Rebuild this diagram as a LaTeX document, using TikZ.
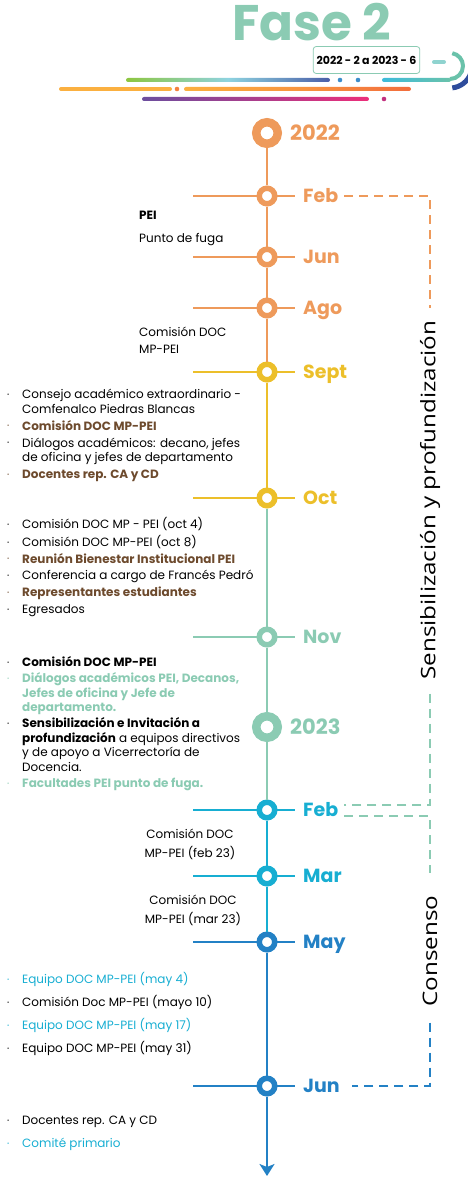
\documentclass[tikz,border=0pt]{standalone}
\usepackage{fontspec}
\setmainfont{Poppins}
\newfontfamily\vertfont{Open Sans}
\usepackage{xcolor}
\usepackage{graphicx}
\usetikzlibrary{arrows.meta,positioning,calc}

\definecolor{naranja}{HTML}{EE9A5B}
\definecolor{amarillo}{HTML}{ECBF2A}
\definecolor{menta}{HTML}{8BCBB3}
\definecolor{cian}{HTML}{17AED2}
\definecolor{azul}{HTML}{2381C5}
\definecolor{cafe}{HTML}{6D4A2D}
% header bars
\definecolor{verdeA}{HTML}{8DC63F}
\definecolor{cianC}{HTML}{8ED3E0}
\definecolor{azulO}{HTML}{4A5EA8}
\definecolor{azulM}{HTML}{3C8DCB}
\definecolor{cianL}{HTML}{3DBCDB}
\definecolor{tealL}{HTML}{6AC2AA}
\definecolor{tealC}{HTML}{8FD3CF}
\definecolor{azulD}{HTML}{2E4C9C}
\definecolor{naranjaC}{HTML}{FBB040}
\definecolor{rojoN}{HTML}{F26D3D}
\definecolor{morado}{HTML}{6C4E9E}
\definecolor{rosa}{HTML}{EC2E7A}
\definecolor{magenta}{HTML}{C2307F}

\newcommand{\vin}{\makebox[15pt][l]{\raisebox{2.2pt}{\scalebox{.45}{\textbullet}}}}
\newcommand{\itm}[2]{\color{#1}\vin & \color{#1}#2}
\newcommand{\bloque}[1]{\begin{tabular}[t]{@{}l@{}l@{}}#1\end{tabular}}

\newcommand{\lblFase}{Fase 2}
\newcommand{\lblRango}{2022 - 2 a 2023 - 6}
\newcommand{\lblFaseA}{\scalebox{1.21}[1]{Sensibilización y profundización}}
\newcommand{\lblFaseB}{\scalebox{1.21}[1]{Consenso}}
\newcommand{\lblFeb}{\begin{tabular}[t]{@{}l@{}}\textbf{PEI}\\[8.5pt]Punto de fuga\end{tabular}}
\newcommand{\lblAgo}{\begin{tabular}[t]{@{}l@{}}Comisión DOC\\[3pt]MP-PEI\end{tabular}}
\newcommand{\lblFebB}{\begin{tabular}[t]{@{}c@{}}Comisión DOC\\[3.5pt]MP-PEI (feb 23)\end{tabular}}
\newcommand{\lblMar}{\begin{tabular}[t]{@{}c@{}}Comisión DOC\\[3pt]MP-PEI (mar 23)\end{tabular}}
\newcommand{\lblSept}{\bloque{%
  \itm{black}{Consejo académico extraordinario -}\\
  & Comfenalco Piedras Blancas\\[2.5pt]
  \itm{cafe}{\bfseries Comisión DOC MP-PEI}\\[2.5pt]
  \itm{black}{Diálogos académicos: decano, jefes}\\
  & de oficina y jefes de departamento\\[2.5pt]
  \itm{cafe}{\bfseries Docentes rep. CA y CD}}}
\newcommand{\lblOct}{\bloque{%
  \itm{black}{Comisión DOC MP - PEI (oct 4)}\\[2.3pt]
  \itm{black}{Comisión DOC MP-PEI (oct 8)}\\[2.3pt]
  \itm{cafe}{\bfseries Reunión Bienestar Institucional PEI}\\[2.3pt]
  \itm{black}{Conferencia a cargo de Francés Pedró}\\[2.3pt]
  \itm{cafe}{\bfseries Representantes estudiantes}\\[2.3pt]
  \itm{black}{Egresados}}}
\newcommand{\lblNov}{\bloque{%
  \itm{black}{\bfseries Comisión DOC MP-PEI}\\[1.5pt]
  \itm{menta}{\bfseries Diálogos académicos PEI, Decanos,}\\
  & \color{menta}\bfseries Jefes de oficina y Jefe de\\
  & \color{menta}\bfseries departamento.\\[1.5pt]
  \itm{black}{\bfseries Sensibilización e Invitación a}\\
  & \textbf{profundización} a equipos directivos\\
  & y de apoyo a Vicerrectoría de\\
  & Docencia.\\[2pt]
  \itm{menta}{\bfseries Facultades PEI punto de fuga.}}}
\newcommand{\lblMay}{\bloque{%
  \itm{cian}{Equipo DOC MP-PEI (may 4)}\\[7.5pt]
  \itm{black}{Comisión Doc MP-PEI (mayo 10)}\\[7.5pt]
  \itm{cian}{Equipo DOC MP-PEI (may 17)}\\[7.5pt]
  \itm{black}{Equipo DOC MP-PEI (may 31)}}}
\newcommand{\lblJun}{\bloque{%
  \itm{black}{Docentes rep. CA y CD}\\[8.5pt]
  \itm{cian}{Comité primario}}}

% one month on the line: tick, ring, label
\newcommand{\hito}[4]{%
  \coordinate (#1-a) at (\xA,#2);
  \coordinate (#1-b) at (\xB,#2);
  \draw[tick=#3] (#1-a) -- (#1-b);
  \node[hito=#3] (#1) at (\xT,#2) {};
  \node[mes=#3] (#1-t) at (\xL,#2) {#4};}

\begin{document}
\begin{tikzpicture}[
  x=1pt, y=1pt,
  font=\fontsize{12}{14.5}\selectfont,
  >={Stealth[length=12pt,width=15pt,inset=3pt]},
  seg/.style  ={draw=#1, line width=2pt},
  tick/.style ={draw=#1, line width=2pt},
  hito/.style ={circle, draw=#1, fill=white, line width=5.5pt,
                minimum size=15.5pt, inner sep=0pt},
  anio/.style ={circle, draw=#1, fill=white, line width=8.5pt,
                minimum size=21.5pt, inner sep=0pt},
  mes/.style  ={font=\fontsize{19}{19}\selectfont\bfseries, text=#1,
                anchor=west, inner sep=0pt, text height=13.5pt, text depth=0pt},
  ano/.style  ={mes=#1, font=\fontsize{21}{21}\selectfont\bfseries,
                text height=15pt},
  nota/.style ={anchor=base west, inner sep=0pt},
  brk/.style  ={draw=#1, line width=2.2pt, dash pattern=on 9pt off 6pt},
  fase/.style ={font=\vertfont\fontsize{20}{20}\selectfont, rotate=90,
                inner sep=0pt},
  barra/.style={rounded corners=2pt},
]
\useasboundingbox (0,0) rectangle (468,-1177);

% ---- geometry --------------------------------------------------------------
\def\xT{267}   % the time line
\def\xL{303}   % month labels
\def\xA{193} \def\xB{295}

% ---- header ----------------------------------------------------------------
\node[font=\fontsize{50}{50}\selectfont\bfseries, text=menta, anchor=base west,
      inner sep=0pt, text depth=0pt] (fase) at (232,-41) {\lblFase};

\shade[barra, left color=verdeA, right color=azulO, middle color=cianC]
  (126,-78) rectangle (330,-82);
\fill[azulM] (340,-80) circle (2.3);
\fill[azulM] (358,-80) circle (2.3);
\shade[barra, left color=cianL, right color=tealL] (382,-78) rectangle (451,-82);
\draw[tealL, line width=4pt] (450,-79) arc (-90:80:13);
\draw[tealC, line width=4pt, line cap=round] (434,-62) -- (444,-62);
\draw[azulD, line width=5pt] (450,-66) ++(-20:22) arc (-20:-84:22);

\draw[naranjaC, line width=4pt, line cap=round] (61,-89) -- (170,-89);
\fill[rojoN!70!naranjaC] (177,-89) circle (2.3);
\shade[barra, left color=naranjaC, right color=rojoN, middle color=naranjaC!60!rojoN]
  (184,-87) rectangle (411,-91);
\shade[barra, left color=morado, right color=rosa] (142,-97) rectangle (369,-101);
\fill[magenta] (384,-99) circle (2.3);

\node[draw=menta, line width=0.8pt, fill=white, rounded corners=3pt,
      minimum width=99pt, minimum height=27pt,
      font=\fontsize{11}{11}\selectfont\bfseries] (rango) at (366.5,-60) {\lblRango};

% ---- the line --------------------------------------------------------------
\node[anio=naranja] (a22) at (\xT,-133) {};
\node[ano=naranja] (a22-t) at (290,-133) {2022};
\hito{feb22}{-196}{naranja}{Feb}
\hito{jun22}{-257}{naranja}{Jun}
\hito{ago22}{-308}{naranja}{Ago}
\hito{sep22}{-372}{amarillo}{Sept}
\hito{oct22}{-498}{amarillo}{Oct}
\hito{nov22}{-637}{menta}{Nov}
\node[anio=menta] (a23) at (\xT,-727) {};
\node[ano=menta] (a23-t) at (290,-727) {2023};
\hito{feb23}{-810}{cian}{Feb}
\hito{mar23}{-876}{cian}{Mar}
\hito{may23}{-942}{azul}{May}
\hito{jun23}{-1086}{azul}{Jun}
\coordinate (fin) at (\xT,-1176);

\draw[seg=naranja] (a22) -- (feb22);
\draw[seg=naranja] (feb22) -- (jun22);
\draw[seg=naranja] (jun22) -- (ago22);
\draw[seg=naranja] (ago22) -- (sep22);
\draw[seg=amarillo] (sep22) -- (oct22);
\draw[seg=menta] (oct22) -- (nov22);
\draw[seg=menta] (nov22) -- (a23);
\draw[seg=menta] (a23) -- (feb23);
\draw[seg=cian] (feb23) -- (mar23);
\draw[seg=cian] (mar23) -- (may23);
\draw[seg=azul] (may23) -- (jun23);
\draw[seg=azul, ->] (jun23) -- (fin);

% ---- what happened ---------------------------------------------------------
\node[nota] (nFeb)  at (139,-219.5) {\lblFeb};
\node[nota] (nAgo)  at (139,-336)   {\lblAgo};
\node[nota] (nSept) at (7,-398.5)   {\lblSept};
\node[nota] (nOct)  at (7,-528.5)   {\lblOct};
\node[nota] (nNov)  at (7,-666.5)   {\lblNov};
\node[nota, anchor=base] (nFebB) at (190,-838.5) {\lblFebB};
\node[nota, anchor=base] (nMar)  at (193,-904.5) {\lblMar};
\node[nota] (nMay)  at (7,-983.5)   {\lblMay};
\node[nota] (nJun)  at (7,-1124.5)  {\lblJun};

% ---- the two stages --------------------------------------------------------
\node[fase] (faseA) at (430,-500) {\lblFaseA};
\node[fase] (faseB) at (430,-951) {\lblFaseB};

\draw[brk=naranja, shorten <=6pt, shorten >=12pt] (feb22-t.east) -| (faseA.east);
\draw[brk=menta, shorten <=14pt, shorten >=6pt] (faseA.west) |- ([yshift=5pt]feb23-t.east);
\draw[brk=menta, shorten <=6pt, shorten >=22pt] ([yshift=-6pt]feb23-t.east) -| (faseB.east);
\draw[brk=azul, shorten <=16pt, shorten >=12pt] (faseB.west) |- (jun23-t.east);

\end{tikzpicture}
\end{document}
